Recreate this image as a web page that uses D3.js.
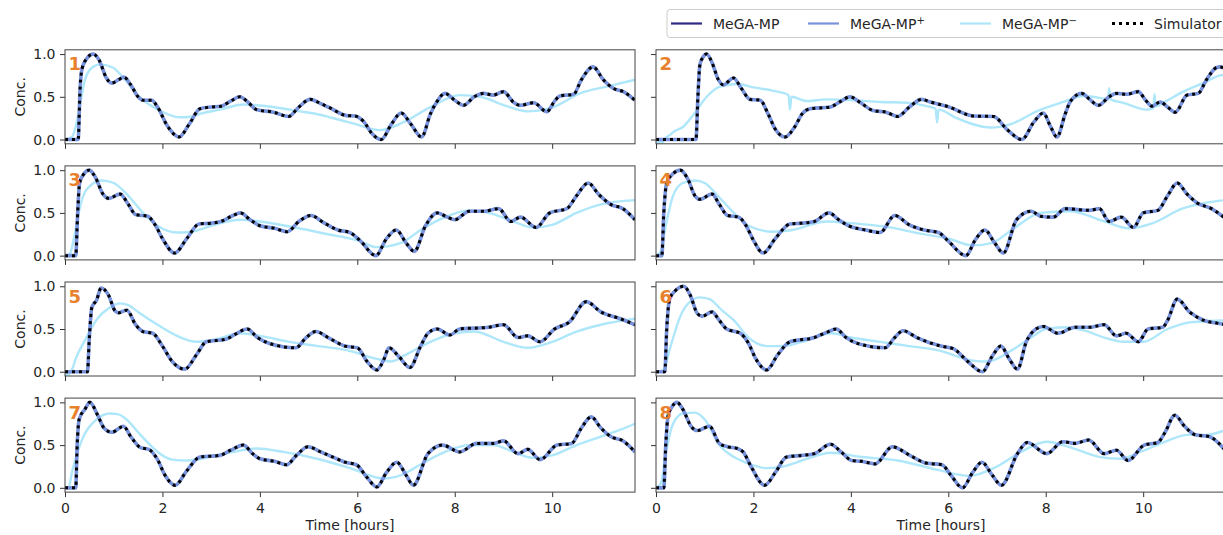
<!DOCTYPE html>
<html>
<head>
<meta charset="utf-8">
<script src="https://cdn.jsdelivr.net/npm/d3@7"></script>
<style>
  body { margin: 0; background: #fff; }
  text { font-family: "DejaVu Sans", sans-serif; fill: #262626; }
</style>
</head>
<body>
<svg id="chart" width="1223" height="535"></svg>
<script>
// panel numbers, tick values and legend entries
const panel_labels = ["1", "2", "3", "4", "5", "6", "7", "8"];
const x_ticks = [0, 2, 4, 6, 8, 10];
const y_ticks = [0, 0.5, 1.0];
const legend_names = ["MeGA-MP", "MeGA-MP+", "MeGA-MP\u2212", "Simulator"];

// simulator curves [time, conc] (MeGA-MP and MeGA-MP+ sit on top of them)
const sim_1 = [[0,0],[0.27,0],[0.31,0.6],[0.35,0.83],[0.45,0.95],[0.58,1.0],[0.7,0.93],[0.85,0.72],[0.96,0.66],[1.1,0.7],[1.21,0.73],[1.35,0.64],[1.5,0.5],[1.6,0.46],[1.78,0.46],[1.9,0.38],[2.1,0.16],[2.34,0.03],[2.55,0.18],[2.77,0.36],[3.0,0.38],[3.2,0.39],[3.4,0.45],[3.59,0.5],[3.75,0.44],[3.93,0.35],[4.28,0.32],[4.59,0.27],[4.8,0.38],[5.03,0.47],[5.25,0.42],[5.44,0.37],[5.78,0.28],[5.95,0.275],[6.13,0.21],[6.3,0.07],[6.49,0.0],[6.7,0.18],[6.9,0.31],[7.1,0.18],[7.32,0.03],[7.5,0.3],[7.63,0.44],[7.8,0.54],[8.0,0.46],[8.18,0.40],[8.4,0.5],[8.59,0.54],[8.79,0.52],[9.0,0.56],[9.2,0.44],[9.34,0.40],[9.62,0.43],[9.89,0.325],[10.05,0.45],[10.16,0.51],[10.44,0.53],[10.6,0.7],[10.84,0.85],[11.05,0.7],[11.25,0.6],[11.46,0.56],[11.7,0.46]];
const sim_2 = [[0,0],[0.82,0],[0.86,0.5],[0.9,0.87],[0.96,0.96],[1.04,1.0],[1.15,0.9],[1.28,0.7],[1.38,0.64],[1.59,0.72],[1.75,0.6],[1.93,0.47],[2.14,0.46],[2.3,0.3],[2.45,0.12],[2.65,0.03],[2.85,0.15],[3.0,0.3],[3.16,0.36],[3.57,0.38],[3.8,0.45],[3.98,0.5],[4.2,0.43],[4.45,0.34],[4.72,0.32],[4.96,0.27],[5.2,0.38],[5.45,0.47],[5.63,0.44],[5.83,0.41],[5.97,0.39],[6.52,0.275],[6.93,0.27],[7.2,0.12],[7.51,0.0],[7.75,0.2],[7.95,0.31],[8.1,0.15],[8.23,0.03],[8.4,0.3],[8.5,0.44],[8.74,0.54],[8.9,0.47],[9.08,0.40],[9.3,0.5],[9.45,0.54],[9.66,0.53],[9.9,0.56],[10.05,0.46],[10.18,0.39],[10.35,0.44],[10.5,0.38],[10.66,0.32],[10.9,0.52],[11.13,0.54],[11.3,0.7],[11.5,0.84],[11.58,0.85],[11.7,0.82]];
const sim_3 = [[0,0],[0.22,0],[0.26,0.5],[0.3,0.85],[0.38,0.95],[0.5,1.0],[0.62,0.92],[0.78,0.72],[0.9,0.67],[1.13,0.72],[1.3,0.6],[1.45,0.48],[1.7,0.46],[1.85,0.36],[2.0,0.2],[2.25,0.03],[2.5,0.2],[2.75,0.37],[3.0,0.38],[3.2,0.4],[3.45,0.47],[3.6,0.5],[3.8,0.42],[4.0,0.35],[4.3,0.32],[4.56,0.28],[4.8,0.4],[5.05,0.47],[5.3,0.39],[5.6,0.3],[5.85,0.27],[6.05,0.18],[6.38,0.0],[6.6,0.2],[6.8,0.3],[7.0,0.15],[7.17,0.05],[7.4,0.35],[7.64,0.5],[7.85,0.45],[8.0,0.42],[8.3,0.52],[8.6,0.52],[8.9,0.55],[9.15,0.4],[9.35,0.45],[9.67,0.33],[9.95,0.5],[10.3,0.55],[10.5,0.7],[10.74,0.85],[10.95,0.72],[11.2,0.6],[11.45,0.55],[11.7,0.42]];
const sim_4 = [[0,0],[0.12,0],[0.16,0.5],[0.22,0.85],[0.35,0.96],[0.5,1.0],[0.65,0.9],[0.8,0.7],[0.9,0.66],[1.15,0.72],[1.3,0.6],[1.47,0.47],[1.7,0.45],[1.85,0.35],[2.0,0.18],[2.2,0.03],[2.45,0.2],[2.75,0.37],[3.0,0.38],[3.25,0.4],[3.55,0.5],[3.75,0.42],[3.95,0.35],[4.3,0.3],[4.6,0.27],[4.9,0.47],[5.2,0.36],[5.5,0.3],[5.8,0.27],[6.0,0.17],[6.36,0.0],[6.55,0.18],[6.75,0.3],[6.95,0.15],[7.13,0.03],[7.4,0.42],[7.7,0.52],[7.9,0.46],[8.15,0.45],[8.4,0.55],[8.9,0.53],[9.1,0.55],[9.3,0.4],[9.55,0.45],[9.8,0.33],[10.0,0.5],[10.3,0.53],[10.5,0.7],[10.7,0.85],[10.9,0.72],[11.1,0.62],[11.4,0.55],[11.7,0.43]];
const sim_5 = [[0,0],[0.46,0],[0.5,0.4],[0.55,0.75],[0.65,0.84],[0.74,0.98],[0.89,0.9],[1.03,0.71],[1.1,0.69],[1.27,0.72],[1.45,0.55],[1.6,0.47],[1.8,0.45],[2.0,0.3],[2.2,0.12],[2.46,0.03],[2.7,0.2],[2.9,0.35],[3.3,0.38],[3.5,0.44],[3.74,0.5],[3.95,0.4],[4.2,0.33],[4.74,0.28],[4.95,0.4],[5.15,0.47],[5.4,0.4],[5.75,0.3],[6.0,0.28],[6.2,0.12],[6.4,0.02],[6.55,0.15],[6.65,0.28],[6.85,0.18],[7.08,0.05],[7.3,0.3],[7.45,0.45],[7.64,0.5],[7.9,0.43],[8.1,0.5],[8.7,0.52],[9.0,0.55],[9.3,0.4],[9.5,0.42],[9.75,0.35],[10.05,0.5],[10.35,0.58],[10.7,0.82],[11.0,0.7],[11.4,0.62],[11.7,0.55]];
const sim_6 = [[0,0],[0.18,0],[0.22,0.5],[0.28,0.85],[0.4,0.95],[0.57,1.0],[0.7,0.9],[0.85,0.68],[0.95,0.65],[1.15,0.7],[1.3,0.6],[1.45,0.5],[1.73,0.45],[1.9,0.33],[2.05,0.15],[2.27,0.02],[2.5,0.2],[2.75,0.35],[3.25,0.4],[3.5,0.46],[3.7,0.5],[3.9,0.4],[4.2,0.32],[4.7,0.28],[4.9,0.4],[5.07,0.48],[5.35,0.4],[5.85,0.3],[6.1,0.27],[6.4,0.12],[6.7,0.0],[6.9,0.18],[7.08,0.3],[7.25,0.15],[7.42,0.03],[7.6,0.35],[7.8,0.5],[7.95,0.53],[8.25,0.45],[8.6,0.52],[8.9,0.52],[9.2,0.55],[9.45,0.42],[9.65,0.45],[9.9,0.35],[10.1,0.5],[10.4,0.52],[10.5,0.6],[10.7,0.85],[10.95,0.7],[11.25,0.6],[11.5,0.57],[11.7,0.55]];
const sim_7 = [[0,0],[0.22,0],[0.25,0.5],[0.29,0.8],[0.41,0.92],[0.51,1.0],[0.67,0.85],[0.8,0.7],[0.96,0.65],[1.2,0.72],[1.35,0.6],[1.55,0.47],[1.72,0.45],[1.9,0.33],[2.05,0.15],[2.26,0.03],[2.5,0.2],[2.77,0.36],[3.18,0.38],[3.4,0.44],[3.66,0.5],[3.85,0.4],[4.0,0.34],[4.3,0.31],[4.55,0.27],[4.75,0.38],[4.99,0.48],[5.25,0.42],[5.5,0.36],[5.75,0.3],[5.98,0.27],[6.2,0.12],[6.4,0.01],[6.6,0.18],[6.81,0.3],[7.0,0.15],[7.15,0.03],[7.45,0.4],[7.75,0.5],[8.1,0.42],[8.45,0.52],[8.8,0.52],[9.0,0.55],[9.3,0.4],[9.5,0.45],[9.75,0.33],[10.1,0.5],[10.4,0.52],[10.6,0.7],[10.8,0.83],[11.0,0.7],[11.2,0.6],[11.45,0.55],[11.7,0.42]];
const sim_8 = [[0,0],[0.16,0],[0.2,0.5],[0.25,0.85],[0.33,0.95],[0.43,1.0],[0.55,0.92],[0.72,0.72],[0.85,0.67],[1.1,0.72],[1.3,0.52],[1.47,0.48],[1.67,0.46],[1.79,0.42],[1.95,0.25],[2.23,0.03],[2.45,0.18],[2.68,0.36],[3.0,0.38],[3.25,0.4],[3.58,0.51],[3.8,0.42],[4.02,0.32],[4.22,0.31],[4.5,0.28],[4.85,0.48],[5.21,0.38],[5.54,0.29],[5.87,0.27],[6.05,0.15],[6.29,0.0],[6.5,0.18],[6.69,0.3],[6.9,0.15],[7.09,0.03],[7.42,0.4],[7.62,0.53],[8.02,0.4],[8.35,0.54],[8.6,0.52],[8.88,0.56],[9.2,0.4],[9.45,0.44],[9.69,0.32],[10.02,0.5],[10.3,0.53],[10.45,0.65],[10.65,0.85],[10.85,0.72],[11.07,0.62],[11.35,0.6],[11.7,0.43]];

// MeGA-MP- curves [time, conc]
const minus_1 = [[0,0],[0.14,0.03],[0.22,0.15],[0.3,0.38],[0.41,0.7],[0.55,0.84],[0.72,0.88],[0.99,0.84],[1.23,0.7],[1.54,0.49],[1.88,0.36],[2.36,0.26],[2.6,0.27],[2.77,0.3],[3.18,0.35],[3.66,0.41],[4.14,0.39],[4.83,0.33],[5.24,0.29],[5.44,0.26],[5.91,0.19],[6.47,0.11],[6.94,0.2],[7.5,0.38],[8.11,0.52],[8.52,0.5],[9.07,0.39],[9.48,0.33],[10.02,0.38],[10.57,0.54],[11.12,0.62],[11.7,0.7]];
const minus_2 = [[0,-0.02],[0.05,-0.04],[0.1,0.0],[0.12,-0.04],[0.2,0.02],[0.3,0.06],[0.36,0.09],[0.56,0.15],[0.77,0.29],[1.04,0.5],[1.31,0.62],[1.66,0.65],[2.0,0.61],[2.41,0.57],[2.72,0.52],[2.75,0.35],[2.78,0.5],[3.09,0.45],[3.5,0.47],[4.05,0.46],[4.6,0.44],[5.15,0.43],[5.56,0.39],[5.74,0.36],[5.77,0.2],[5.8,0.35],[6.17,0.25],[6.86,0.14],[7.33,0.19],[7.81,0.33],[8.36,0.44],[8.77,0.51],[9.18,0.48],[9.28,0.47],[9.3,0.6],[9.33,0.47],[9.59,0.43],[10.07,0.35],[10.21,0.37],[10.23,0.53],[10.26,0.39],[10.41,0.43],[10.82,0.56],[11.23,0.66],[11.58,0.75],[11.7,0.76]];
const minus_3 = [[0,0],[0.1,0.02],[0.2,0.25],[0.3,0.55],[0.45,0.78],[0.75,0.88],[1.0,0.85],[1.3,0.7],[1.6,0.5],[1.9,0.35],[2.3,0.27],[2.6,0.28],[3.0,0.35],[3.6,0.42],[4.0,0.4],[4.8,0.32],[5.4,0.25],[6.0,0.18],[6.4,0.1],[6.9,0.15],[7.3,0.3],[7.8,0.45],[8.3,0.53],[8.7,0.5],[9.2,0.4],[9.6,0.33],[10.0,0.36],[10.5,0.5],[11.0,0.6],[11.7,0.65]];
const minus_4 = [[0,0],[0.1,0.05],[0.2,0.35],[0.35,0.7],[0.55,0.85],[0.8,0.88],[1.0,0.85],[1.3,0.68],[1.6,0.5],[1.9,0.35],[2.4,0.28],[2.8,0.3],[3.5,0.4],[4.0,0.38],[4.8,0.33],[5.4,0.26],[6.0,0.2],[6.5,0.12],[6.9,0.15],[7.3,0.3],[7.9,0.5],[8.5,0.52],[9.2,0.4],[9.7,0.32],[10.2,0.38],[10.8,0.55],[11.3,0.62],[11.7,0.65]];
const minus_5 = [[0,-0.04],[0.1,-0.02],[0.24,0.18],[0.45,0.41],[0.65,0.61],[0.92,0.75],[1.13,0.8],[1.3,0.78],[1.5,0.7],[1.9,0.55],[2.3,0.42],[2.7,0.35],[3.1,0.38],[3.6,0.45],[4.0,0.42],[4.6,0.35],[5.2,0.3],[5.8,0.25],[6.4,0.15],[6.7,0.12],[7.0,0.2],[7.5,0.35],[8.0,0.45],[8.4,0.47],[9.0,0.35],[9.5,0.28],[10.0,0.35],[10.5,0.47],[11.0,0.55],[11.7,0.62]];
const minus_6 = [[0,0],[0.15,0.02],[0.3,0.3],[0.5,0.65],[0.7,0.82],[0.9,0.87],[1.1,0.85],[1.35,0.72],[1.6,0.6],[1.9,0.4],[2.3,0.3],[2.6,0.3],[3.0,0.35],[3.6,0.45],[4.0,0.4],[4.6,0.35],[5.2,0.3],[5.8,0.25],[6.5,0.13],[6.8,0.12],[7.3,0.25],[7.7,0.4],[8.0,0.5],[8.4,0.52],[8.8,0.48],[9.2,0.4],[9.6,0.35],[10.0,0.35],[10.5,0.5],[11.0,0.58],[11.7,0.6]];
const minus_7 = [[0,0],[0.07,0.0],[0.15,0.2],[0.34,0.55],[0.65,0.8],[0.92,0.87],[1.1,0.86],[1.3,0.78],[1.5,0.65],[1.75,0.5],[2.0,0.38],[2.2,0.33],[2.5,0.32],[2.8,0.34],[3.45,0.42],[3.93,0.46],[4.48,0.42],[5.17,0.34],[5.85,0.23],[6.53,0.11],[6.9,0.15],[7.29,0.27],[7.8,0.42],[8.3,0.5],[8.8,0.5],[9.2,0.42],[9.6,0.35],[10.0,0.38],[10.5,0.5],[11.0,0.6],[11.4,0.68],[11.7,0.75]];
const minus_8 = [[0,0],[0.1,0.05],[0.2,0.4],[0.35,0.75],[0.55,0.87],[0.8,0.88],[1.0,0.8],[1.3,0.5],[1.6,0.36],[1.87,0.29],[2.28,0.23],[2.61,0.25],[3.1,0.34],[3.58,0.41],[4.23,0.36],[4.96,0.32],[5.78,0.21],[6.43,0.14],[7.0,0.25],[7.49,0.42],[8.02,0.54],[8.47,0.48],[9.12,0.36],[9.53,0.34],[9.94,0.42],[10.5,0.55],[10.9,0.62],[11.3,0.62],[11.7,0.68]];

const sim_all = [sim_1, sim_2, sim_3, sim_4, sim_5, sim_6, sim_7, sim_8];
const minus_all = [minus_1, minus_2, minus_3, minus_4, minus_5, minus_6, minus_7, minus_8];

// layout
const col_left = [65, 656];
const row_top = [49.8, 165.9, 282, 398.1];
const panel_w = 570, panel_h = 94;
const colors = { mega: "#2f2b84", plus: "#7893dc", minus: "#aee7fa", sim: "#000", label: "#e8812d" };
const font_px = "14px";

const svg = d3.select("#chart");
svg.append("rect").attr("width", 1223).attr("height", 535).attr("fill", "#fff");

const xScale = d3.scaleLinear().domain([0, 11.7]).range([0, panel_w]);
const yScale = d3.scaleLinear().domain([-0.05, 1.05]).range([panel_h, 0]);

const line = d3.line()
    .x(d => xScale(d[0]))
    .y(d => yScale(d[1]))
    .curve(d3.curveMonotoneX);

const defs = svg.append("defs");
defs.append("clipPath").attr("id", "panel-clip")
  .append("rect").attr("width", panel_w).attr("height", panel_h);

for (let i = 0; i < 8; i++) {
    let col = i % 2, row = Math.floor(i / 2);
    let g = svg.append("g")
        .attr("transform", "translate(" + col_left[col] + "," + row_top[row] + ")");

    // axes
    let yAxis = d3.axisLeft(yScale).tickValues(y_ticks).tickSize(5).tickPadding(4.5)
        .tickFormat(col == 0 ? d3.format(".1f") : "");
    let xAxis = d3.axisBottom(xScale).tickValues(x_ticks).tickSize(5).tickPadding(5.5)
        .tickFormat(row == 3 ? d3.format("d") : "");

    let ya = g.append("g").call(yAxis);
    let xa = g.append("g").attr("transform", "translate(0," + panel_h + ")").call(xAxis);
    [ya, xa].forEach(a => {
        a.attr("font-size", null).attr("font-family", null);
        a.select(".domain").remove();
        a.selectAll(".tick line").attr("stroke", "#333");
        a.selectAll("text").style("font-size", font_px).attr("fill", "#262626");
    });

    let lines = g.append("g").attr("clip-path", "url(#panel-clip)");
    lines.append("path").datum(minus_all[i])
        .attr("fill", "none").attr("stroke", colors.minus).attr("stroke-width", 2.4)
        .attr("d", line);
    // MeGA-MP is hidden under MeGA-MP+
    lines.append("path").datum(sim_all[i])
        .attr("fill", "none").attr("stroke", colors.mega).attr("stroke-width", 2.2)
        .attr("d", line);
    lines.append("path").datum(sim_all[i])
        .attr("fill", "none").attr("stroke", colors.plus).attr("stroke-width", 3.6)
        .attr("d", line);
    lines.append("path").datum(sim_all[i])
        .attr("fill", "none").attr("stroke", colors.sim).attr("stroke-width", 3)
        .attr("stroke-dasharray", "3,4")
        .attr("d", line);

    g.append("rect").attr("width", panel_w).attr("height", panel_h)
        .attr("fill", "none").attr("stroke", "#444").attr("stroke-width", 1);

    g.append("text").attr("x", 3.5).attr("y", 20.5)
        .style("font-size", "18px").style("font-weight", "bold")
        .style("fill", colors.label)
        .text(panel_labels[i]);

    if (col == 0) {
        g.append("text")
            .attr("transform", "translate(-40," + (panel_h / 2) + ") rotate(-90)")
            .attr("text-anchor", "middle")
            .style("font-size", font_px)
            .text("Conc.");
    }
    if (row == 3) {
        g.append("text").attr("x", panel_w / 2).attr("y", panel_h + 38)
            .attr("text-anchor", "middle").style("font-size", font_px)
            .text("Time [hours]");
    }
}

// legend
let legend = svg.append("g").attr("transform", "translate(667,9.5)");
legend.append("rect").attr("width", 600).attr("height", 28).attr("rx", 3)
    .attr("fill", "#fff").attr("fill-opacity", 0.8).attr("stroke", "#ccc");
const legend_x = [4, 141, 293, 445];
const legend_style = [
    { c: colors.mega, w: 2.2, dash: null },
    { c: colors.plus, w: 2.2, dash: null },
    { c: colors.minus, w: 2.2, dash: null },
    { c: colors.sim, w: 3, dash: "3,4" }
];
legend_names.forEach((name, k) => {
    let lx = legend_x[k];
    legend.append("line").attr("x1", lx).attr("x2", lx + 31).attr("y1", 14).attr("y2", 14)
        .attr("stroke", legend_style[k].c).attr("stroke-width", legend_style[k].w)
        .attr("stroke-dasharray", legend_style[k].dash);
    let t = legend.append("text").attr("x", lx + 42).attr("y", 19).style("font-size", font_px);
    let last = name.slice(-1);
    if (last == "+" || last == "\u2212") {
        t.append("tspan").text(name.slice(0, -1));
        t.append("tspan").attr("dy", -5).style("font-size", "10px").text(last);
    } else {
        t.text(name);
    }
});
</script>
</body>
</html>
